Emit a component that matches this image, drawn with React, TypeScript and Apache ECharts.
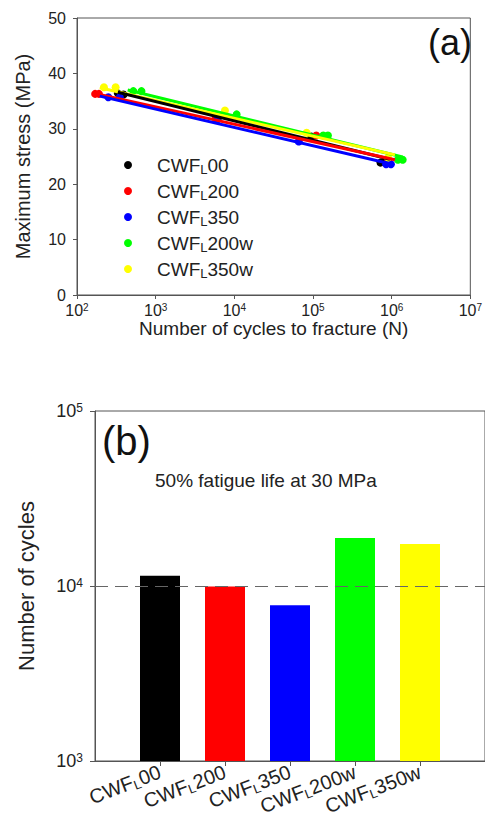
import React, { useEffect, useRef } from 'react';
import * as echarts from 'echarts';

// ---------- data ----------
const seriesSuffixes = ['00', '200', '350', '200w', '350w'];
const seriesNames = ['CWFL00', 'CWFL200', 'CWFL350', 'CWFL200w', 'CWFL350w'];
const seriesColors = ['#000000', '#ff0000', '#0000ff', '#00ff00', '#ffff00'];

// (cycles to fracture, maximum stress MPa)
const ptsL00 = [[330, 36.4], [390, 36.2], [6200, 32.0], [95000, 28.6], [720000, 23.9], [820000, 24.2]];
const ptsL200 = [[170, 36.3], [190, 36.3], [5800, 31.9], [110000, 28.8], [900000, 24.2]];
const ptsL350 = [[250, 35.7], [350, 35.7], [6000, 31.6], [66000, 27.7], [850000, 23.6], [980000, 23.6]];
const ptsL200w = [[520, 36.8], [660, 36.8], [10700, 32.6], [135000, 28.8], [155000, 28.8], [1200000, 24.4], [1380000, 24.4]];
const ptsL350w = [[220, 37.5], [310, 37.5], [7600, 33.3], [83000, 29.3], [900000, 24.8]];

// fitted lines (end points)
const fitL00 = [[330, 36.6], [950000, 24.5]];
const fitL200 = [[180, 36.3], [1100000, 24.4]];
const fitL350 = [[195, 35.9], [1020000, 23.6]];
const fitL200w = [[441, 37.0], [1380000, 24.9]];
const fitL350w = [[195, 37.4], [1100000, 25.3]];

// 50% fatigue life at 30 MPa
const lifeAt30 = [11450, 9950, 7760, 18800, 17380];
const refLife = 10000;

const allPts = [ptsL00, ptsL200, ptsL350, ptsL200w, ptsL350w];
const allFits = [fitL00, fitL200, fitL350, fitL200w, fitL350w];

const FONT = '"Liberation Sans", Arial, Helvetica, sans-serif';
const AXIS_COLOR = '#555555';

const nameOf = (i: number) => `CWF{sub|L}${seriesSuffixes[i]}`;

export default function App() {
  const ref = useRef<HTMLDivElement>(null);
  useEffect(() => {
    if (!ref.current) return;
    const chart = echarts.init(ref.current, undefined, { renderer: 'svg' });

    const powLabel = (fs: number, sfs: number) => ({
      formatter: (v: number) => `{b|10}{sup|${Math.round(Math.log10(v))}}`,
      rich: {
        b: { fontSize: fs, fontFamily: FONT, color: '#222', lineHeight: fs },
        sup: { fontSize: sfs, fontFamily: FONT, color: '#222', lineHeight: sfs, padding: [0, 0, fs - sfs, 0] },
      },
    });

    const scatterSeries = allPts.map((pts, i) => ({
      type: 'scatter',
      name: seriesNames[i],
      xAxisIndex: 0,
      yAxisIndex: 0,
      data: pts,
      symbol: 'circle',
      symbolSize: 8,
      itemStyle: { color: seriesColors[i], opacity: 1 },
      z: 2,
    }));
    const fitOrder = [3, 4, 0, 1, 2];
    const fitSeries = fitOrder.map((i) => ({
      type: 'line',
      name: seriesNames[i] + ' fit',
      xAxisIndex: 0,
      yAxisIndex: 0,
      data: allFits[i],
      symbol: 'none',
      lineStyle: { color: seriesColors[i], width: 3 },
      z: 3,
    }));

    const barCats = ['', ...seriesNames, ''];
    const barData = [
      null,
      ...lifeAt30.map((v, i) => ({ value: v, itemStyle: { color: seriesColors[i] } })),
      null,
    ];

    chart.setOption({
      animation: false,
      backgroundColor: '#ffffff',
      textStyle: { fontFamily: FONT },
      grid: [
        { left: 77, top: 18, width: 396, height: 277, show: true, borderColor: AXIS_COLOR, borderWidth: 1 },
        { left: 95, top: 411, width: 394, height: 350, show: true, borderColor: AXIS_COLOR, borderWidth: 1 },
      ],
      legend: {
        data: seriesNames,
        orient: 'vertical',
        left: 119,
        top: 149,
        icon: 'circle',
        itemWidth: 8,
        itemHeight: 8,
        itemGap: 4,
        selectedMode: false,
        formatter: (name: string) => nameOf(seriesNames.indexOf(name)),
        textStyle: {
          fontFamily: FONT,
          fontSize: 19,
          color: '#222',
          padding: [0, 0, 0, 20],
          rich: {
            sub: { fontSize: 13, fontFamily: FONT, color: '#222', lineHeight: 13, padding: [9, 0, 0, 0] },
          },
        },
      },
      xAxis: [
        {
          type: 'log',
          gridIndex: 0,
          logBase: 10,
          min: 100,
          max: 10000000,
          name: 'Number of cycles to fracture (N)',
          nameLocation: 'middle',
          nameGap: 24,
          nameMoveOverlap: false,
          nameTextStyle: { fontSize: 19, fontFamily: FONT, color: '#222', lineHeight: 19 },
          axisLine: { lineStyle: { color: AXIS_COLOR } },
          axisTick: { show: true, inside: false, length: 4, lineStyle: { color: AXIS_COLOR } },
          minorTick: { show: false },
          splitLine: { show: false },
          axisLabel: { margin: 7, ...powLabel(16, 10) },
        },
        {
          type: 'category',
          gridIndex: 1,
          data: barCats,
          boundaryGap: false,
          axisLine: { lineStyle: { color: AXIS_COLOR } },
          axisTick: {
            show: true,
            length: 5,
            interval: (i: number) => i >= 1 && i <= 5,
            lineStyle: { color: AXIS_COLOR },
          },
          splitLine: { show: false },
          axisLabel: {
            interval: (i: number) => i >= 1 && i <= 5,
            rotate: 21,
            margin: 10,
            formatter: (v: string) => {
              const i = seriesNames.indexOf(v);
              return i < 0 ? '' : `{m|CWF}{sub|L}{m|${seriesSuffixes[i]}}`;
            },
            rich: {
              m: { fontSize: 20, fontFamily: FONT, color: '#222', lineHeight: 22 },
              sub: { fontSize: 13, fontFamily: FONT, color: '#222', lineHeight: 13, padding: [9, 0, 0, 0] },
            },
          },
        },
      ],
      yAxis: [
        {
          type: 'value',
          gridIndex: 0,
          min: 0,
          max: 50,
          interval: 10,
          name: 'Maximum stress (MPa)',
          nameLocation: 'middle',
          nameGap: 44,
          nameMoveOverlap: false,
          nameTextStyle: { fontSize: 20, fontFamily: FONT, color: '#222' },
          axisLine: { show: true, lineStyle: { color: AXIS_COLOR } },
          axisTick: { show: true, length: 4, lineStyle: { color: AXIS_COLOR } },
          splitLine: { show: false },
          axisLabel: { fontSize: 16, fontFamily: FONT, color: '#222', margin: 11 },
        },
        {
          type: 'log',
          gridIndex: 1,
          logBase: 10,
          min: 1000,
          max: 100000,
          name: 'Number of cycles',
          nameLocation: 'middle',
          nameGap: 58,
          nameMoveOverlap: false,
          nameTextStyle: { fontSize: 22, fontFamily: FONT, color: '#222' },
          axisLine: { show: true, lineStyle: { color: AXIS_COLOR } },
          axisTick: { show: true, length: 5, lineStyle: { color: AXIS_COLOR } },
          minorTick: { show: false },
          splitLine: { show: false },
          axisLabel: { margin: 12, ...powLabel(18, 12) },
        },
      ],
      graphic: [
        {
          type: 'text',
          left: 428,
          top: 24,
          style: { text: '(a)', fontSize: 36, fontFamily: FONT, fill: '#111' },
        },
        {
          type: 'text',
          left: 102,
          top: 421,
          style: { text: '(b)', fontSize: 40, fontFamily: FONT, fill: '#111' },
        },
        {
          type: 'text',
          left: 155,
          top: 471,
          style: { text: '50% fatigue life at 30 MPa', fontSize: 19, fontFamily: FONT, fill: '#222' },
        },
      ],
      series: [
        ...scatterSeries,
        ...fitSeries,
        {
          type: 'bar',
          name: 'life',
          xAxisIndex: 1,
          yAxisIndex: 1,
          data: barData,
          barWidth: 40,
          markLine: {
            silent: true,
            symbol: ['none', 'none'],
            label: { show: false },
            lineStyle: { type: [13, 7], color: '#666666', width: 1 },
            data: [{ yAxis: refLife }],
          },
        },
      ],
    });
    return () => chart.dispose();
  }, []);

  return (
    <div
      ref={ref}
      style={{ position: 'fixed', left: 0, top: 0, width: 485, height: 822, background: '#fff' }}
    />
  );
}
